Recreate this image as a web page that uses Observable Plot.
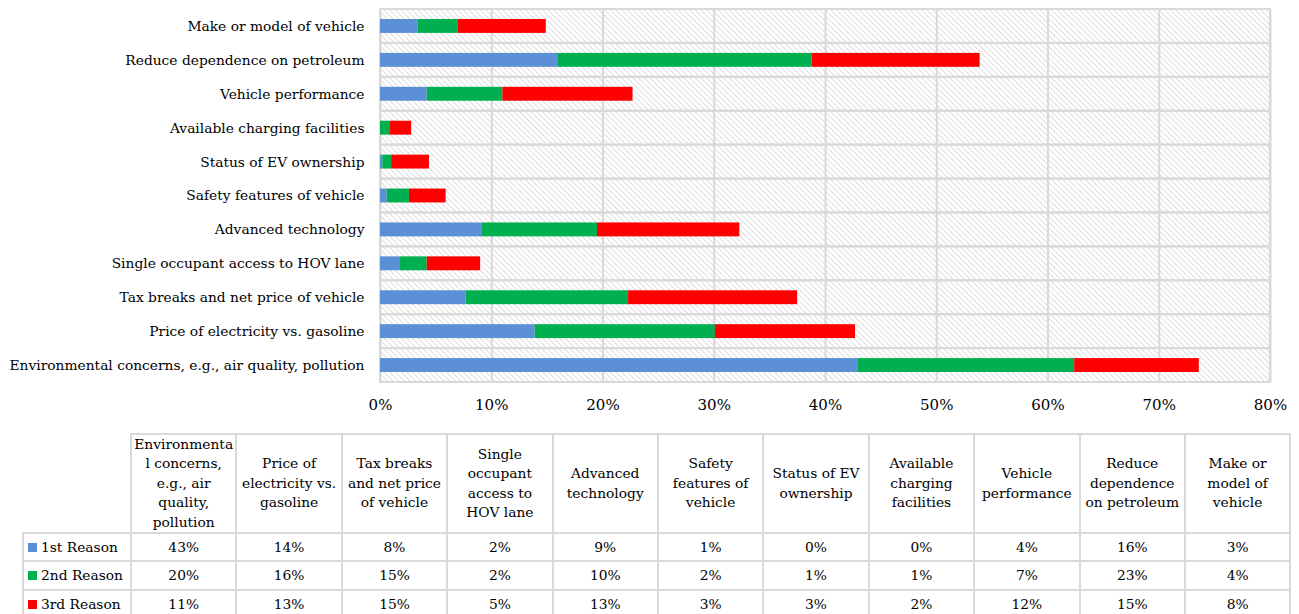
<!DOCTYPE html>
<html>
<head>
<meta charset="utf-8">
<script src="https://cdn.jsdelivr.net/npm/d3@7"></script>
<script src="https://cdn.jsdelivr.net/npm/@observablehq/plot@0.6"></script>
<style>
  body { margin: 0; background: #fff; font-family: 'DejaVu Serif', serif; overflow: hidden; }
  #chart { position: absolute; left: 0; top: 0; }
  #table { position: absolute; left: 22px; top: 433px; }
  table { border-collapse: collapse; table-layout: fixed; font-size: 13.8px; color: #000; }
  td { border: 2px solid #d9d9d9; text-align: center; padding: 0; }
  td.blank { border-top: none; border-left: none; }
  tr.head td { line-height: 19.4px; vertical-align: middle; }
  tr.data td { height: 26.3px; line-height: 20px; }
  td.name { text-align: left; padding-left: 4px; white-space: nowrap; }
  .key { display: inline-block; width: 9px; height: 9px; margin-right: 4px; vertical-align: 0px; }
</style>
</head>
<body>
<div id="chart"></div>
<div id="table"></div>
<script>
// Reasons for purchasing an electric vehicle, share of respondents (%)
const categories = [
  "Environmental concerns, e.g., air quality, pollution",
  "Price of electricity vs. gasoline",
  "Tax breaks and net price of vehicle",
  "Single occupant access to HOV lane",
  "Advanced technology",
  "Safety features of vehicle",
  "Status of EV ownership",
  "Available charging facilities",
  "Vehicle performance",
  "Reduce dependence on petroleum",
  "Make or model of vehicle"
];

// Column headings of the data table, as wrapped
const headerLines = [
  ["Environmenta", "l concerns,", "e.g., air", "quality,", "pollution"],
  ["Price of", "electricity vs.", "gasoline"],
  ["Tax breaks", "and net price", "of vehicle"],
  ["Single", "occupant", "access to", "HOV lane"],
  ["Advanced", "technology"],
  ["Safety", "features of", "vehicle"],
  ["Status of EV", "ownership"],
  ["Available", "charging", "facilities"],
  ["Vehicle", "performance"],
  ["Reduce", "dependence", "on petroleum"],
  ["Make or", "model of", "vehicle"]
];

const reasons = ["1st Reason", "2nd Reason", "3rd Reason"];
const reasonColors = ["#5b8fd6", "#00b050", "#ff0000"];

const firstReason  = [42.9, 13.9, 7.7, 1.8, 9.1, 0.6, 0.2, 0.0, 4.2, 16.0, 3.4];
const secondReason = [19.5, 16.2, 14.6, 2.4, 10.4, 2.0, 0.8, 0.9, 6.8, 22.8, 3.6];
const thirdReason  = [11.2, 12.6, 15.2, 4.8, 12.8, 3.3, 3.4, 1.9, 11.7, 15.1, 7.9];

const xTicks = [0, 10, 20, 30, 40, 50, 60, 70, 80];
const xMax = 80;

const series = [firstReason, secondReason, thirdReason];
const rows = [];
categories.forEach((c, i) => {
  reasons.forEach((r, j) => rows.push({category: c, reason: r, value: series[j][i]}));
});

const gridColor = "#d9d9d9";
const font = "'DejaVu Serif', serif";

const chart = Plot.plot({
  width: 1299,
  height: 425,
  marginLeft: 380,
  marginRight: 29,
  marginTop: 9,
  marginBottom: 43,
  style: {fontFamily: font, fontSize: "13.8px", color: "#000", background: "#fff"},
  x: {domain: [0, xMax], ticks: xTicks, tickFormat: d => d + "%", label: null},
  y: {domain: categories.slice().reverse(), padding: 0, round: false, label: null},
  color: {domain: reasons, range: reasonColors},
  marks: [
    Plot.frame({fill: "url(#hatch)", stroke: null}),
    Plot.ruleX(xTicks, {stroke: gridColor, strokeWidth: 2}),
    Plot.barX(categories, {y: d => d, x1: 0, x2: xMax, fill: "none", stroke: gridColor, strokeWidth: 2}),
    Plot.barX(rows, Plot.stackX({
      y: "category", x: "value", fill: "reason", order: reasons,
      insetTop: 10, insetBottom: 10
    })),
    Plot.axisX({ticks: xTicks, tickSize: 0, tickPadding: 17, fontSize: 15, label: null, tickFormat: d => d + "%"}),
    Plot.axisY({tickSize: 0, tickPadding: 16, fontSize: 13.8, label: null})
  ]
});

// Diagonal hatch used as the plot-area fill
const defs = d3.select(chart).insert("defs", ":first-child");
const pat = defs.append("pattern")
  .attr("id", "hatch")
  .attr("patternUnits", "userSpaceOnUse")
  .attr("width", 4).attr("height", 4)
  .attr("patternTransform", "rotate(-45)");
pat.append("rect").attr("width", 4).attr("height", 4).attr("fill", "#fff");
pat.append("line").attr("x1", 0).attr("y1", 0).attr("x2", 0).attr("y2", 4)
  .attr("stroke", "#cfcfcf").attr("stroke-width", 1.4);

document.getElementById("chart").appendChild(chart);

// Data table under the chart
const fmt = v => Math.round(v) + "%";
const table = d3.select("#table").append("table");
const cg = table.append("colgroup");
cg.append("col").style("width", "108px");
categories.forEach(() => cg.append("col").style("width", "105.4px"));

const head = table.append("tr").attr("class", "head");
head.append("td").attr("class", "blank");
headerLines.forEach(lines => {
  head.append("td").html(lines.join("<br>"));
});
reasons.forEach((r, j) => {
  const tr = table.append("tr").attr("class", "data");
  const nameCell = tr.append("td").attr("class", "name");
  nameCell.append("span").attr("class", "key").style("background", reasonColors[j]);
  nameCell.append("span").text(r);
  series[j].forEach(v => tr.append("td").text(fmt(v)));
});
</script>
</body>
</html>
